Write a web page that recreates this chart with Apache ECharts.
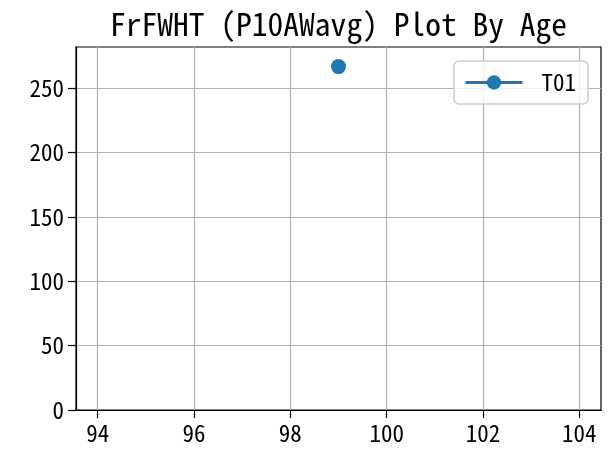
<!DOCTYPE html>
<html>
<head>
<meta charset="utf-8">
<script src="https://cdn.jsdelivr.net/npm/echarts@6/dist/echarts.min.js"></script>
<style>
html,body{margin:0;padding:0;background:#fff;}
#chart{width:609px;height:456px;}
</style>
</head>
<body>
<div id="chart"></div>
<script>
const titleText = 'FrFWHT (P10AWavg) Plot By Age';
const seriesName = 'T01';
const ages = [99];
const values = [266.7];
const xTicks = [94, 96, 98, 100, 102, 104];
const yTicks = [0, 50, 100, 150, 200, 250];
const xRange = [93.55, 104.45];
const yRange = [0, 281.9];

const FONT = '"Noto Sans Mono CJK SC", "Noto Sans CJK SC", "DejaVu Sans Mono", monospace';
const chart = echarts.init(document.getElementById('chart'), null, {renderer: 'canvas'});
const pts = ages.map((a, i) => [a, values[i]]);
chart.setOption({
  animation: false,
  backgroundColor: '#ffffff',
  graphic: [{
    type: 'text', x: 338.5, y: 24,
    style: {text: titleText, font: '31.5px ' + FONT, fill: '#000', textAlign: 'center', textVerticalAlign: 'middle'}
  }],
  grid: {left: 76, right: 8, top: 47, bottom: 46, show: true, borderColor: '#000', borderWidth: 1.2, backgroundColor: 'transparent'},
  legend: {
    right: 21, top: 61,
    padding: [10, 12, 10, 10],
    itemWidth: 57, itemHeight: 18,
    borderColor: '#cccccc', borderWidth: 1.5, borderRadius: 5,
    backgroundColor: 'rgba(255,255,255,0.8)',
    lineStyle: {width: 3},
    textStyle: {fontFamily: FONT, fontSize: 23, color: '#000', padding: [0, 0, 0, 14]},
    data: [seriesName]
  },
  xAxis: {
    type: 'value', min: xRange[0], max: xRange[1],
    axisLine: {show: true, onZero: false, lineStyle: {color: '#000', width: 1.2}},
    axisTick: {show: true, length: 8, inside: false, customValues: xTicks, lineStyle: {color: '#000', width: 1.2}},
    axisLabel: {customValues: xTicks, fontFamily: FONT, fontSize: 23, color: '#000', margin: 12},
    splitLine: {show: true, lineStyle: {color: '#b0b0b0', width: 1.2}}
  },
  yAxis: {
    type: 'value', min: yRange[0], max: yRange[1],
    axisLine: {show: true, onZero: false, lineStyle: {color: '#000', width: 1.2}},
    axisTick: {show: true, length: 8, inside: false, customValues: yTicks, lineStyle: {color: '#000', width: 1.2}},
    axisLabel: {customValues: yTicks, fontFamily: FONT, fontSize: 23, color: '#000', margin: 12},
    splitLine: {show: true, lineStyle: {color: '#b0b0b0', width: 1.2}}
  },
  series: [{
    name: seriesName, type: 'line', data: pts,
    symbol: 'circle', symbolSize: 15, showSymbol: true,
    itemStyle: {color: '#1f77b4'},
    lineStyle: {color: '#1f77b4', width: 3}
  }]
});
</script>
</body>
</html>
